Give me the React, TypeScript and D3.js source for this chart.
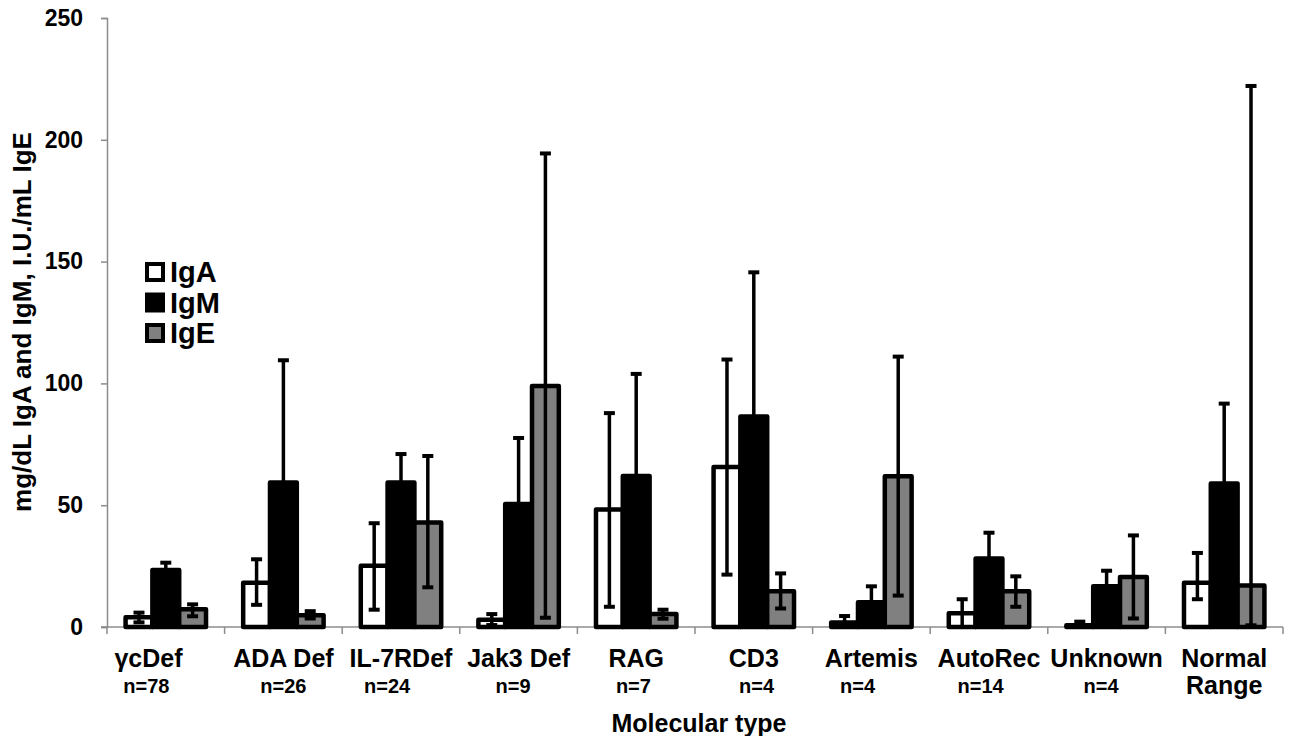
import React, { useRef, useEffect } from "react";
import * as d3 from "d3";

// category names (spaces kept as in the original labels)
const categories = ["γcDef     ", "ADA Def", "IL-7RDef", "Jak3 Def", "RAG", "CD3", "Artemis", "AutoRec", "Unknown", "Normal"];
const subLabels = ["n=78       ", "n=26", "n=24     ", "n=9  ", "n=7 ", " n=4", "n=4     ", "n=14   ", "n=4  ", "Range"];

const series = ["IgA", "IgM", "IgE"];

const igA = [4.0, 18.2, 25.1, 3.0, 48.2, 65.7, 1.8, 5.6, 0.7, 18.2];
const igALow = [1.9, 9.1, 7.1, 0.8, 8.3, 21.5, 0, 0, 0, 11.4];
const igAHigh = [5.9, 27.8, 42.6, 5.3, 87.8, 109.8, 4.5, 11.4, 2.2, 30.4];

const igM = [23.4, 59.3, 59.3, 50.5, 62.0, 86.4, 10.2, 28.1, 16.7, 58.9];
const igMLow = [20.4, 9.1, 47.6, 23.4, 20.1, 27.2, 3.7, 17.5, 10.3, 26.1];
const igMHigh = [26.4, 109.5, 71.0, 77.6, 103.9, 145.6, 16.7, 38.7, 23.1, 91.7];

const igE = [7.3, 4.8, 42.9, 98.9, 5.3, 14.7, 61.9, 14.7, 20.5, 17.0];
const igELow = [4.4, 3.5, 16.3, 3.8, 3.4, 7.6, 12.9, 8.3, 3.5, 0.7];
const igEHigh = [9.3, 6.5, 70.2, 194.4, 7.1, 22.0, 111.0, 20.8, 37.6, 222.1];

const yTicks = [0, 50, 100, 150, 200, 250];

const fills = ["#ffffff", "#000000", "#808080"];
const FONT = "'Liberation Sans', Arial, sans-serif";

const App = () => {
    const ref = useRef(null);

    useEffect(() => {
        const svg = d3.select(ref.current);
        svg.selectAll("*").remove();

        const values = [igA, igM, igE];
        const lows = [igALow, igMLow, igELow];
        const highs = [igAHigh, igMHigh, igEHigh];

        const x0 = d3.scaleBand().domain(d3.range(categories.length)).range([107, 1283]);
        const bw = x0.bandwidth();
        const x1 = d3.scaleBand().domain(series).range([bw * 0.158, bw * 0.842]);
        const y = d3.scaleLinear().domain([0, 250]).range([627, 18]);

        const axisColor = "#8c8c8c";

        // y axis
        const yAxis = svg.append("g")
            .attr("transform", "translate(107,0)")
            .call(d3.axisLeft(y).tickValues(yTicks).tickSize(6).tickPadding(18));
        yAxis.select(".domain").attr("stroke", axisColor).attr("stroke-width", 1.5);
        yAxis.selectAll(".tick line").attr("stroke", axisColor).attr("stroke-width", 1.5);
        yAxis.selectAll(".tick text")
            .attr("fill", "#000")
            .style("font-family", FONT)
            .style("font-weight", "bold")
            .style("font-size", "23px");

        // x axis line + ticks at band edges
        const xg = svg.append("g");
        xg.append("line")
            .attr("x1", 101).attr("x2", 1283)
            .attr("y1", y(0)).attr("y2", y(0))
            .attr("stroke", axisColor).attr("stroke-width", 1.5);
        const edges = d3.range(categories.length + 1).map((i) => 107 + i * bw);
        xg.selectAll(".xt").data(edges).join("line")
            .attr("x1", (d) => d).attr("x2", (d) => d)
            .attr("y1", y(0)).attr("y2", y(0) + 7)
            .attr("stroke", axisColor).attr("stroke-width", 1.5);

        // bars
        const groups = svg.append("g").selectAll("g")
            .data(categories)
            .join("g")
            .attr("transform", (d, i) => `translate(${x0(i)},0)`);

        series.forEach((s, si) => {
            groups.append("rect")
                .attr("x", x1(s))
                .attr("width", x1.bandwidth())
                .attr("y", (d, i) => y(values[si][i]))
                .attr("height", (d, i) => y(0) - y(values[si][i]))
                .attr("fill", fills[si])
                .attr("stroke", "#000")
                .attr("stroke-width", 4.5)
                .attr("stroke-linejoin", "round");
        });

        // error bars
        series.forEach((s, si) => {
            const cx = x1(s) + x1.bandwidth() / 2;
            groups.append("line")
                .attr("x1", cx).attr("x2", cx)
                .attr("y1", (d, i) => y(lows[si][i]))
                .attr("y2", (d, i) => y(highs[si][i]))
                .attr("stroke", "#000").attr("stroke-width", 3.5);
            [lows[si], highs[si]].forEach((arr) => {
                groups.append("line")
                    .attr("x1", cx - 5.5).attr("x2", cx + 5.5)
                    .attr("y1", (d, i) => y(arr[i]))
                    .attr("y2", (d, i) => y(arr[i]))
                    .attr("stroke", "#000").attr("stroke-width", 4);
            });
        });

        // category labels
        const labels = svg.append("g")
            .style("font-family", FONT)
            .style("font-weight", "bold")
            .attr("text-anchor", "middle");
        labels.selectAll(".cat").data(categories).join("text")
            .attr("x", (d, i) => x0(i) + bw / 2)
            .attr("y", 667)
            .style("font-size", "25px")
            .style("white-space", "pre")
            .text((d) => d);
        labels.selectAll(".sub").data(subLabels).join("text")
            .attr("x", (d, i) => x0(i) + bw / 2)
            .attr("y", (d) => (d === "Range" ? 694 : 693))
            .style("font-size", (d) => (d === "Range" ? "25px" : "20px"))
            .style("white-space", "pre")
            .text((d) => d);

        // axis titles
        svg.append("text")
            .attr("x", 699).attr("y", 732)
            .attr("text-anchor", "middle")
            .style("font-family", FONT).style("font-weight", "bold").style("font-size", "25px")
            .text("Molecular type");
        svg.append("text")
            .attr("transform", "translate(31,322) rotate(-90)")
            .attr("text-anchor", "middle")
            .attr("textLength", 380)
            .attr("lengthAdjust", "spacingAndGlyphs")
            .style("font-family", FONT).style("font-weight", "bold").style("font-size", "25px")
            .text("mg/dL IgA and IgM, I.U./mL IgE");

        // legend
        const legend = svg.append("g").attr("transform", "translate(147,264)");
        series.forEach((s, si) => {
            legend.append("rect")
                .attr("x", 0).attr("y", si * 30.5)
                .attr("width", 16).attr("height", 16)
                .attr("fill", fills[si]).attr("stroke", "#000").attr("stroke-width", 4);
            legend.append("text")
                .attr("x", 23).attr("y", si * 30.5 + 18)
                .style("font-family", FONT).style("font-weight", "bold").style("font-size", "29px")
                .text(s);
        });
    }, []);

    return <svg ref={ref} width={1294} height={744} style={{ display: "block", margin: "-8px" }} />;
};

export default App;
